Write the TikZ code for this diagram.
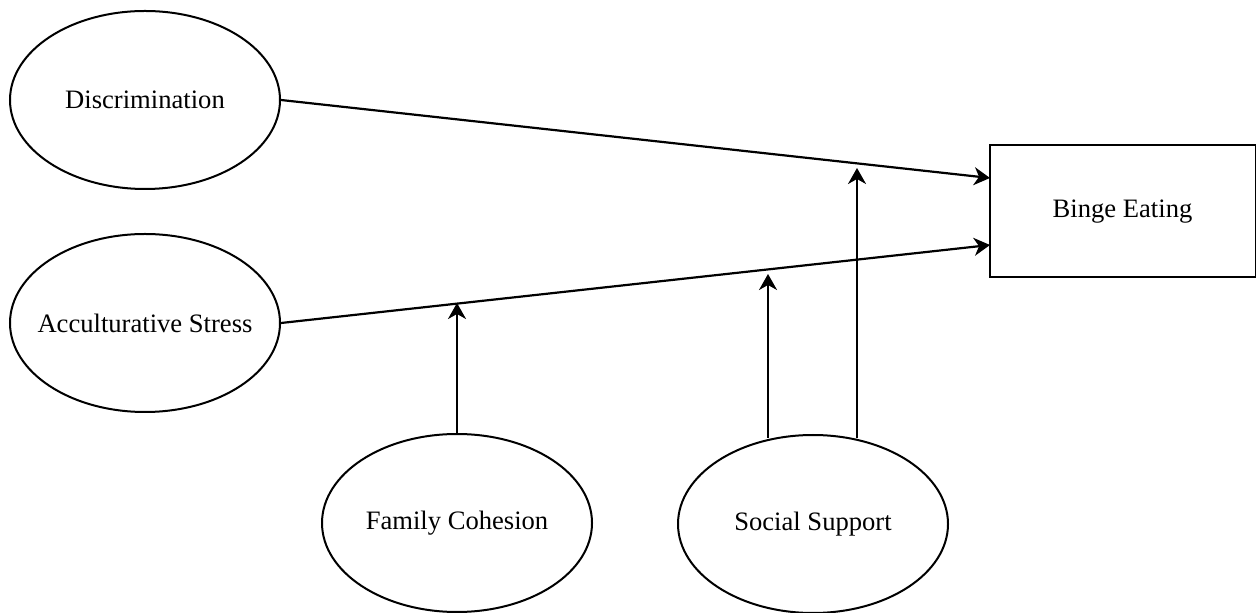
\documentclass[tikz,border=0pt]{standalone}
\usepackage{fontspec}
\setmainfont{Liberation Serif}
\usetikzlibrary{shapes.geometric,arrows.meta}
\newcommand{\zw}[1]{\makebox[0pt]{#1}}
\begin{document}
\begin{tikzpicture}[x=0.5pt,y=-0.5pt,
  oval/.style={draw,line width=1pt,ellipse,inner sep=0pt,minimum width=135pt,minimum height=89pt,font=\fontsize{13.3}{16}\selectfont},
  box/.style={draw,line width=1pt,rectangle,inner sep=0pt,minimum width=133pt,minimum height=66pt,font=\fontsize{13.3}{16}\selectfont},
  link/.style={line width=1.1pt,-{Stealth[length=8pt,width=9pt,inset=2.5pt]}}]
\useasboundingbox (0,0) rectangle (1256,613);
\node[oval] (disc) at (145,100) {\zw{Discrimination}};
\node[oval] (acc) at (145,323) {\zw{Acculturative Stress}};
\node[oval] (fam) at (457,523) {\zw{Family Cohesion}};
\node[oval] (soc) at (813,524) {\zw{Social Support}};
\node[box] (binge) at (1122.5,211.5) {Binge Eating};
\coordinate (t1) at (990,178);
\coordinate (t2) at (990,245);
\draw[link] (disc.east) -- (t1);
\draw[link] (acc.east) -- (t2);
\coordinate (f1) at (457,303);
\coordinate (s1) at (768,274);
\coordinate (s2) at (857,168);
\draw[link] (fam.north) -- (f1);
\draw[link] (soc.north -| s1) ++(0,4) -- (s1);
\draw[link] (soc.north -| s2) ++(0,4) -- (s2);
\end{tikzpicture}
\end{document}
